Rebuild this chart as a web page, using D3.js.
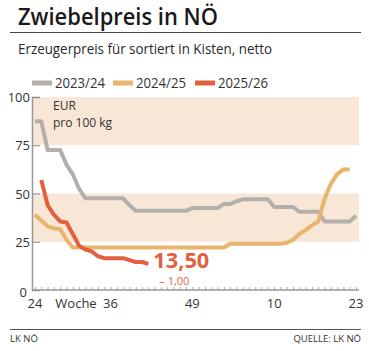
<!DOCTYPE html>
<html>
<head>
<meta charset="utf-8">
<script src="https://cdn.jsdelivr.net/npm/d3@7"></script>
<style>
  body { margin: 0; background: #fff; }
  svg { font-family: "Open Sans", "Noto Sans", sans-serif; }
</style>
</head>
<body>
<script>
// Daten: Kalenderwochen 24 bis 23 (Folgejahr)
var weeks = d3.range(24, 53).concat(d3.range(1, 24));
var seriesNames = ["2023/24", "2024/25", "2025/26"];
var colors = ["#b5afab", "#e9b46b", "#e2603f"];

var preis2324 = [87.5, 87.5, 72.5, 72.5, 72.5, 65, 60, 52.5, 47.5, 47.5,
                 47.5, 47.5, 47.5, 47.5, 47.5, 44, 41, 41, 41, 41,
                 41, 41, 41, 41, 41, 42.5, 42.5, 42.5, 42.5, 42.5,
                 44.5, 44.5, 46, 47, 47, 47, 47, 47, 43, 43,
                 43, 43, 40.5, 40.5, 40.5, 40.5, 35.5, 35.5, 35.5, 35.5,
                 35.5, 38.5];
var preis2425 = [39, 36, 33, 32, 31.5, 26, 22, 22, 22, 22,
                 22, 22, 22, 22, 22, 22, 22, 22, 22, 22,
                 22, 22, 22, 22, 22, 22, 22, 22, 22, 22,
                 22, 24, 24, 24, 24, 24, 24, 24, 24, 24,
                 24.5, 26, 29, 31, 33.5, 35.5, 47, 55, 60, 62.5,
                 62.5];
var preis2526 = [null, 57, 44, 39, 35.5, 35, 29, 23, 21, 20,
                 17.5, 16.5, 16.5, 16.5, 16.5, 15.5, 14.5, 14.5, 13.5];

var yTicks = [0, 25, 50, 75, 100];
var xLabelWeeks = [24, 36, 49, 10, 23];
var bands = [[75, 100], [25, 50]];
var lastValue = "13,50";
var change = "– 1,00";

var W = 369, H = 351;
var svg = d3.select("body").append("svg")
  .attr("width", W).attr("height", H);

var x = d3.scaleLinear().domain([0, 51]).range([35, 356]);
var y = d3.scaleLinear().domain([0, 100]).range([290, 97]);
var plotLeft = 32, plotRight = 359;

// Titel
svg.append("text")
  .attr("x", 18).attr("y", 25)
  .attr("font-size", 24).attr("font-weight", 600)
  .attr("fill", "#1a1a1a")
  .attr("textLength", 200).attr("lengthAdjust", "spacingAndGlyphs")
  .text("Zwiebelpreis in NÖ");
svg.append("line")
  .attr("x1", 10).attr("x2", 361).attr("y1", 32.5).attr("y2", 32.5)
  .attr("stroke", "#444").attr("stroke-width", 1);
svg.append("text")
  .attr("x", 18).attr("y", 54)
  .attr("font-size", 14).attr("fill", "#2a2a2a")
  .attr("textLength", 254).attr("lengthAdjust", "spacingAndGlyphs")
  .text("Erzeugerpreis für sortiert in Kisten, netto");

// Legende
var legendX = [32, 113, 195];
var leg = svg.append("g").selectAll("g").data(seriesNames).join("g")
  .attr("transform", (d, i) => `translate(${legendX[i]}, 83)`);
leg.append("rect").attr("x", 0).attr("y", -2.5).attr("width", 20).attr("height", 5)
  .attr("fill", (d, i) => colors[i]);
leg.append("text").attr("x", 23).attr("y", 5)
  .attr("font-size", 14).attr("fill", "#333")
  .attr("textLength", 50).attr("lengthAdjust", "spacingAndGlyphs")
  .text(d => d);

// Bänder
svg.append("g").selectAll("rect").data(bands).join("rect")
  .attr("x", plotLeft).attr("width", plotRight - plotLeft)
  .attr("y", d => y(d[1])).attr("height", d => y(d[0]) - y(d[1]))
  .attr("fill", "#f8e7d6");

// Einheit
svg.append("text").attr("x", 53).attr("y", 110)
  .attr("font-size", 12).attr("fill", "#333").text("EUR");
svg.append("text").attr("x", 53).attr("y", 127)
  .attr("font-size", 12).attr("fill", "#333").text("pro 100 kg");

// Y-Achse
var yAxis = d3.axisRight(y).tickValues(yTicks).tickSize(8).tickFormat("");
var gy = svg.append("g").attr("transform", `translate(${plotLeft},0)`).call(yAxis);
gy.select(".domain").attr("stroke", "#999").attr("stroke-width", 1.5);
gy.selectAll(".tick line").attr("stroke", "#888");
svg.append("g").selectAll("text").data(yTicks).join("text")
  .attr("x", d => d === 0 ? 27 : 30)
  .attr("y", d => d === 0 ? y(d) + 7 : y(d) + 5)
  .attr("text-anchor", "end")
  .attr("font-size", 13).attr("fill", "#333")
  .text(d => d);

// X-Achse
var xAxis = d3.axisTop(x).tickValues(d3.range(0, 52)).tickSize(3).tickFormat("");
var gx = svg.append("g").attr("transform", `translate(0,${y(0)})`).call(xAxis);
gx.select(".domain").remove();
gx.selectAll(".tick line").attr("stroke", "#aaa");
svg.append("line")
  .attr("x1", plotLeft).attr("x2", plotRight)
  .attr("y1", y(0)).attr("y2", y(0))
  .attr("stroke", "#999").attr("stroke-width", 1.5);
svg.append("g").selectAll("text").data(xLabelWeeks).join("text")
  .attr("x", d => x(weeks.indexOf(d)))
  .attr("y", 308)
  .attr("text-anchor", "middle")
  .attr("font-size", 13).attr("fill", "#333")
  .text(d => d);
svg.append("text").attr("x", 76).attr("y", 308)
  .attr("text-anchor", "middle").attr("font-size", 13).attr("fill", "#333")
  .text("Woche");

// Linien
var line = d3.line()
  .defined(d => d != null)
  .x((d, i) => x(i))
  .y(d => y(d));
var allSeries = [preis2324, preis2425, preis2526];
svg.append("g").selectAll("path").data(allSeries).join("path")
  .attr("d", d => line(d))
  .attr("fill", "none")
  .attr("stroke", (d, i) => colors[i])
  .attr("stroke-width", 4)
  .attr("stroke-linejoin", "round");

// Aktueller Wert
var lastIdx = preis2526.length - 1;
svg.append("text")
  .attr("x", x(lastIdx) + 5).attr("y", y(preis2526[lastIdx]) + 4)
  .attr("font-size", 21).attr("font-weight", 700).attr("fill", "#e2603f")
  .attr("textLength", 56).attr("lengthAdjust", "spacingAndGlyphs")
  .text(lastValue);
svg.append("text")
  .attr("x", x(lastIdx) + 11).attr("y", 285)
  .attr("font-size", 11).attr("fill", "#e2603f")
  .text(change);

// Fußzeile
svg.append("line")
  .attr("x1", 10).attr("x2", 361).attr("y1", 329.5).attr("y2", 329.5)
  .attr("stroke", "#555").attr("stroke-width", 1);
svg.append("text").attr("x", 10).attr("y", 342)
  .attr("font-size", 9.5).attr("fill", "#333").text("LK NÖ");
svg.append("text").attr("x", 361).attr("y", 342)
  .attr("text-anchor", "end")
  .attr("font-size", 9.5).attr("fill", "#333").text("QUELLE: LK NÖ");
</script>
</body>
</html>
